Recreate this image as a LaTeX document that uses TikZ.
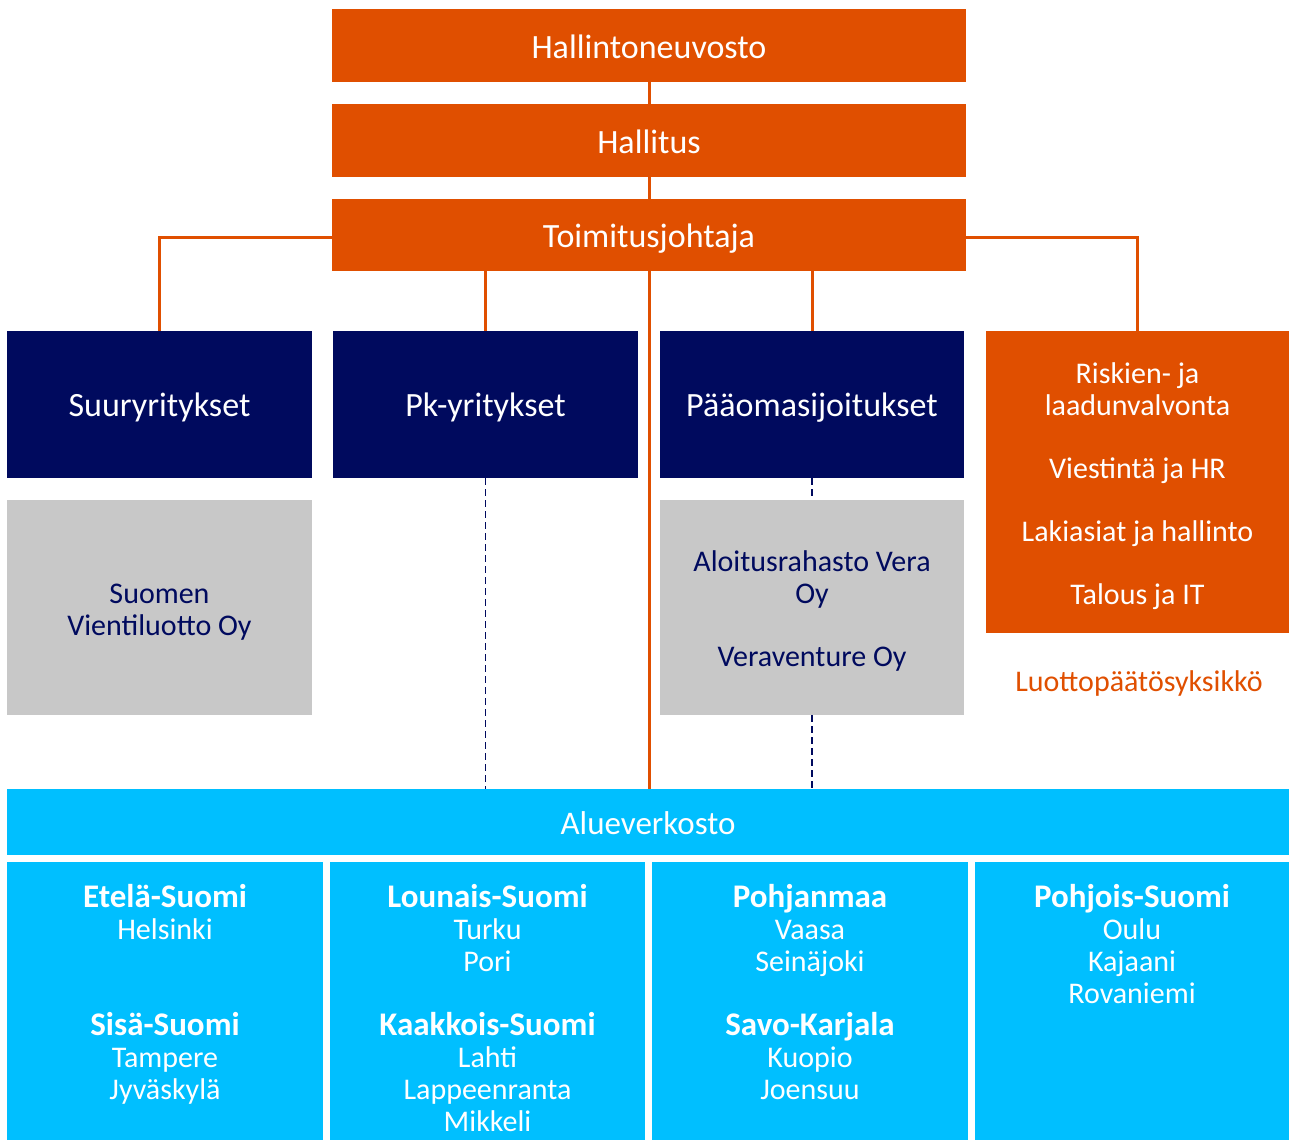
\documentclass[tikz,border=0pt]{standalone}
\usepackage{fontspec}
\setmainfont{Carlito}
\usetikzlibrary{calc}
\definecolor{vfOrange}{RGB}{224,79,0}
\definecolor{vfNavy}{RGB}{0,10,94}
\definecolor{vfGrey}{RGB}{200,200,200}
\definecolor{vfCyan}{RGB}{0,191,255}
\begin{document}
\begin{tikzpicture}[x=0.5pt,y=-0.5pt,
 every node/.style={inner sep=0pt,align=center},
 obox/.style={fill=vfOrange,text=white,font=\fontsize{17}{20}\selectfont,text height=12.5pt,text depth=0pt},
 nbox/.style={fill=vfNavy,text=white,font=\fontsize{17}{20}\selectfont,text height=12pt,text depth=0pt,
  minimum width=152.5pt,minimum height=73.5pt},
 gbox/.style={fill=vfGrey,minimum width=152.5pt,minimum height=107.5pt},
 boxtxt/.style={font=\fontsize{15}{16}\selectfont},
 cbox/.style={fill=vfCyan,minimum height=139pt},
 regtxt/.style={anchor=north,text=white,font=\fontsize{15}{16}\selectfont},
 orline/.style={draw=vfOrange,line width=1.5pt},
 dline/.style={draw=vfNavy,line width=0.75pt,dash pattern=on 3.5pt off 2pt}]
 \useasboundingbox (0,0) rectangle (1289,1140);
 \newcommand\hd[1]{{\bfseries\fontsize{16.5}{16}\selectfont #1}}
 % johto
 \node[obox,minimum width=317pt,minimum height=36.5pt] (hn) at (649,45.5) {Hallintoneuvosto};
 \node[obox,minimum width=317pt,minimum height=36.5pt] (hal) at (649,140.5) {Hallitus};
 \node[obox,minimum width=317pt,minimum height=36pt] (tj) at (649,235) {Toimitusjohtaja};
 % liiketoiminnat
 \node[nbox] (suur) at (159.5,404.5) {Suuryritykset};
 \node[nbox] (pk) at (485.5,404.5) {Pk-yritykset};
 \node[nbox,minimum width=152pt] (po) at (812,404.5) {Pääomasijoitukset};
 \node[fill=vfOrange,minimum width=151.5pt,minimum height=151pt] (tuki) at (1137.5,482) {};
 \node[boxtxt,text=white] (tukiT) at (1137.5,486)
  {Riskien- ja\\laadunvalvonta\\[15.5pt]Viestintä ja HR\\[15.5pt]Lakiasiat ja hallinto\\[15.5pt]Talous ja IT};
 \node[boxtxt,text=vfOrange] (luotto) at (1139,683) {Luottopäätösyksikkö};
 % tytäryhtiöt
 \node[gbox] (svo) at (159.5,607.5) {};
 \node[boxtxt,text=vfNavy] (svoT) at (159.5,612) {Suomen\\Vientiluotto Oy};
 \node[gbox,minimum width=152pt] (vera) at (812,607.5) {};
 \node[boxtxt,text=vfNavy] (veraT) at (812,611) {Aloitusrahasto Vera\\Oy\\[15.5pt]Veraventure Oy};
 % alueverkosto
 \node[fill=vfCyan,text=white,font=\fontsize{16.5}{20}\selectfont,text height=12pt,text depth=0pt,
  minimum width=641pt,minimum height=33pt] (alue) at (648,822) {Alueverkosto};
 \node[cbox,minimum width=158pt] (r1) at (165,1001) {};
 \node[cbox,minimum width=157.5pt] (r2) at (487.5,1001) {};
 \node[cbox,minimum width=158pt] (r3) at (810,1001) {};
 \node[cbox,minimum width=157pt] (r4) at (1132,1001) {};
 \node[regtxt] (t1) at (165,884) {\hd{Etelä-Suomi}\\Helsinki\\[32pt]\hd{Sisä-Suomi}\\Tampere\\Jyväskylä};
 \node[regtxt] (t2) at (487.5,884) {\hd{Lounais-Suomi}\\Turku\\Pori\\[16pt]\hd{Kaakkois-Suomi}\\Lahti\\Lappeenranta\\Mikkeli};
 \node[regtxt] (t3) at (810,884) {\hd{Pohjanmaa}\\Vaasa\\Seinäjoki\\[16pt]\hd{Savo-Karjala}\\Kuopio\\Joensuu};
 \node[regtxt] (t4) at (1132,884) {\hd{Pohjois-Suomi}\\Oulu\\Kajaani\\Rovaniemi};
 % yhteydet
 \draw[orline] (hn) -- (hal);
 \draw[orline] (hal) -- (tj);
 \draw[orline] (tj.south) -- (tj.south |- alue.north);
 \draw[orline] ($(tj.west)+(0,2)$) -| (suur.north);
 \draw[orline] ($(tj.east)+(0,2)$) -| (tuki.north);
 \draw[orline] (pk.north |- tj.south) -- (pk.north);
 \draw[orline] (po.north |- tj.south) -- (po.north);
 \draw[dline] (pk.south) -- (pk.south |- alue.north);
 \draw[dline] (po.south) -- (vera.north);
 \draw[dline] (vera.south) -- (vera.south |- alue.north);
\end{tikzpicture}
\end{document}
